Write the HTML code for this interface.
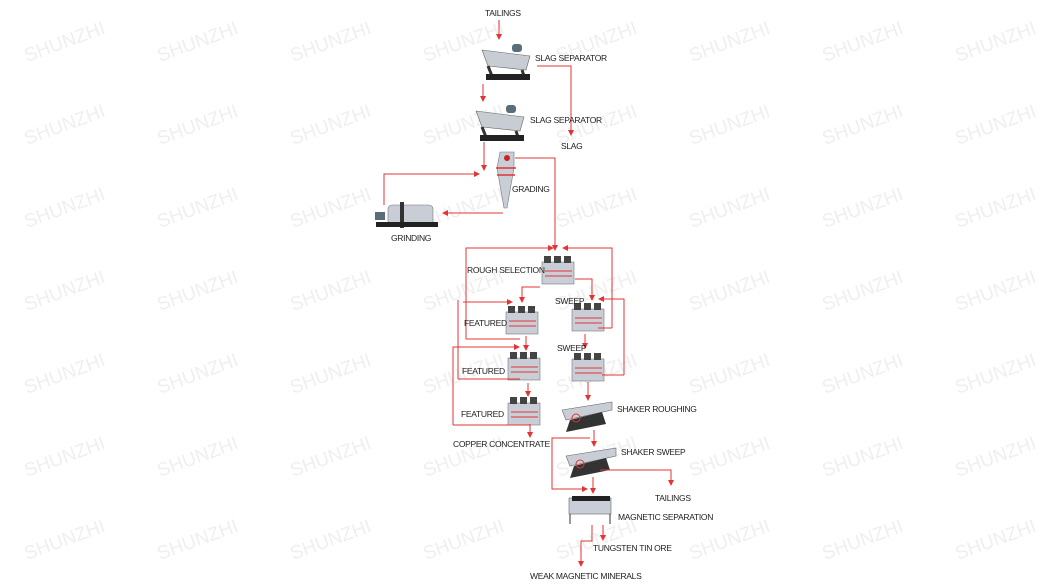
<!DOCTYPE html>
<html><head><meta charset="utf-8"><style>
html,body{margin:0;padding:0;background:#fff;}
svg{display:block}
.w{font-family:"Liberation Sans",sans-serif;font-size:19px;fill:#efefef;}
.t{font-family:"Liberation Sans",sans-serif;font-size:8.5px;fill:#222;letter-spacing:-0.3px}
.r{stroke:#e23434;stroke-width:1;fill:none}
</style></head><body>
<svg width="1040" height="585" viewBox="0 0 1040 585" xmlns="http://www.w3.org/2000/svg">
<defs>
<marker id="a" markerWidth="6" markerHeight="6" refX="5" refY="3" orient="auto" markerUnits="userSpaceOnUse"><path d="M0,0 L6,3 L0,6z" fill="#e23434"/></marker>
<g id="cell"><rect x="0" y="6" width="32" height="22" fill="#c9ced6" stroke="#777" stroke-width="0.6"/><rect x="2" y="0" width="7" height="7" fill="#444"/><rect x="12" y="0" width="7" height="7" fill="#444"/><rect x="22" y="0" width="7" height="7" fill="#444"/><line x1="3" y1="15" x2="30" y2="15" stroke="#e23434"/><line x1="3" y1="20" x2="30" y2="20" stroke="#e23434"/></g>
<g id="slag"><path d="M0,8 L48,14 L44,28 L6,24z" fill="#c8ccd3" stroke="#666" stroke-width="0.6"/><path d="M6,24 L10,34 M40,28 L42,34" stroke="#333" stroke-width="3"/><rect x="4" y="32" width="44" height="6" fill="#222"/><rect x="30" y="2" width="10" height="8" rx="3" fill="#5a6e7a"/></g>
<g id="shaker"><path d="M0,8 L50,0 L50,8 L4,18z" fill="#c9ced6" stroke="#666" stroke-width="0.6"/><path d="M8,18 L40,10 L44,22 L4,30z" fill="#333"/><circle cx="14" cy="16" r="4" fill="none" stroke="#e23434"/></g>
</defs>
<g class="w">
<text transform="translate(27,62) rotate(-20)">SHUNZHI</text><text transform="translate(160,62) rotate(-20)">SHUNZHI</text><text transform="translate(293,62) rotate(-20)">SHUNZHI</text><text transform="translate(426,62) rotate(-20)">SHUNZHI</text><text transform="translate(559,62) rotate(-20)">SHUNZHI</text><text transform="translate(692,62) rotate(-20)">SHUNZHI</text><text transform="translate(825,62) rotate(-20)">SHUNZHI</text><text transform="translate(958,62) rotate(-20)">SHUNZHI</text>
<text transform="translate(27,145) rotate(-20)">SHUNZHI</text><text transform="translate(160,145) rotate(-20)">SHUNZHI</text><text transform="translate(293,145) rotate(-20)">SHUNZHI</text><text transform="translate(426,145) rotate(-20)">SHUNZHI</text><text transform="translate(559,145) rotate(-20)">SHUNZHI</text><text transform="translate(692,145) rotate(-20)">SHUNZHI</text><text transform="translate(825,145) rotate(-20)">SHUNZHI</text><text transform="translate(958,145) rotate(-20)">SHUNZHI</text>
<text transform="translate(27,228) rotate(-20)">SHUNZHI</text><text transform="translate(160,228) rotate(-20)">SHUNZHI</text><text transform="translate(293,228) rotate(-20)">SHUNZHI</text><text transform="translate(426,228) rotate(-20)">SHUNZHI</text><text transform="translate(559,228) rotate(-20)">SHUNZHI</text><text transform="translate(692,228) rotate(-20)">SHUNZHI</text><text transform="translate(825,228) rotate(-20)">SHUNZHI</text><text transform="translate(958,228) rotate(-20)">SHUNZHI</text>
<text transform="translate(27,311) rotate(-20)">SHUNZHI</text><text transform="translate(160,311) rotate(-20)">SHUNZHI</text><text transform="translate(293,311) rotate(-20)">SHUNZHI</text><text transform="translate(426,311) rotate(-20)">SHUNZHI</text><text transform="translate(559,311) rotate(-20)">SHUNZHI</text><text transform="translate(692,311) rotate(-20)">SHUNZHI</text><text transform="translate(825,311) rotate(-20)">SHUNZHI</text><text transform="translate(958,311) rotate(-20)">SHUNZHI</text>
<text transform="translate(27,394) rotate(-20)">SHUNZHI</text><text transform="translate(160,394) rotate(-20)">SHUNZHI</text><text transform="translate(293,394) rotate(-20)">SHUNZHI</text><text transform="translate(426,394) rotate(-20)">SHUNZHI</text><text transform="translate(559,394) rotate(-20)">SHUNZHI</text><text transform="translate(692,394) rotate(-20)">SHUNZHI</text><text transform="translate(825,394) rotate(-20)">SHUNZHI</text><text transform="translate(958,394) rotate(-20)">SHUNZHI</text>
<text transform="translate(27,477) rotate(-20)">SHUNZHI</text><text transform="translate(160,477) rotate(-20)">SHUNZHI</text><text transform="translate(293,477) rotate(-20)">SHUNZHI</text><text transform="translate(426,477) rotate(-20)">SHUNZHI</text><text transform="translate(559,477) rotate(-20)">SHUNZHI</text><text transform="translate(692,477) rotate(-20)">SHUNZHI</text><text transform="translate(825,477) rotate(-20)">SHUNZHI</text><text transform="translate(958,477) rotate(-20)">SHUNZHI</text>
<text transform="translate(27,560) rotate(-20)">SHUNZHI</text><text transform="translate(160,560) rotate(-20)">SHUNZHI</text><text transform="translate(293,560) rotate(-20)">SHUNZHI</text><text transform="translate(426,560) rotate(-20)">SHUNZHI</text><text transform="translate(559,560) rotate(-20)">SHUNZHI</text><text transform="translate(692,560) rotate(-20)">SHUNZHI</text><text transform="translate(825,560) rotate(-20)">SHUNZHI</text><text transform="translate(958,560) rotate(-20)">SHUNZHI</text>
</g>

<use href="#slag" x="482" y="42"/>
<use href="#slag" x="476" y="103"/>
<path d="M500,152 L514,152 L514,168 L507,208 L504,208 L497,168z" fill="#c9ced6" stroke="#777" stroke-width="0.6"/>
<circle cx="507" cy="158" r="3" fill="#c22"/>
<line x1="496" y1="168" x2="516" y2="168" stroke="#e23434" stroke-width="1.5"/><line x1="497" y1="175" x2="515" y2="175" stroke="#e23434" stroke-width="1.5"/>
<rect x="388" y="205" width="45" height="20" rx="4" fill="#c9ced6" stroke="#777" stroke-width="0.6"/><rect x="400" y="202" width="4" height="26" fill="#333"/><rect x="376" y="222" width="62" height="5" fill="#222"/><rect x="375" y="212" width="10" height="8" fill="#5a6e7a"/>
<use href="#cell" x="542" y="256"/>
<use href="#cell" x="506" y="306"/>
<use href="#cell" x="572" y="303"/>
<use href="#cell" x="508" y="352"/>
<use href="#cell" x="572" y="353"/>
<use href="#cell" x="508" y="397"/>
<use href="#shaker" x="562" y="402"/>
<use href="#shaker" x="566" y="448"/>
<rect x="569" y="498" width="42" height="16" fill="#c9ced6" stroke="#666" stroke-width="0.6"/><rect x="572" y="496" width="38" height="5" fill="#222"/><line x1="570" y1="514" x2="570" y2="524" stroke="#333"/><line x1="610" y1="514" x2="610" y2="524" stroke="#333"/>

<g class="r">
<path d="M499,20 V39" marker-end="url(#a)"/>
<path d="M537,66 H571 V135" marker-end="url(#a)"/>
<path d="M483,84 V101" marker-end="url(#a)"/>
<path d="M484,142 V170" marker-end="url(#a)"/>
<path d="M515,158 H555 V250" marker-end="url(#a)"/>
<path d="M503,213 H443" marker-end="url(#a)"/>
<path d="M384,205 V174 H479" marker-end="url(#a)"/>
<path d="M466,339 V248 H553" marker-end="url(#a)"/>
<path d="M466,339 H520"/>
<path d="M612,328 V248 H563" marker-end="url(#a)"/>
<path d="M612,328 H598"/>
<path d="M540,287 H522 V302" marker-end="url(#a)"/>
<path d="M575,279 H592 V300" marker-end="url(#a)"/>
<path d="M624,375 V299 H599" marker-end="url(#a)"/>
<path d="M624,375 H602"/>
<path d="M463,302 H512" marker-end="url(#a)"/>
<path d="M458,379 V300"/>
<path d="M458,379 H520"/>
<path d="M453,425 V347 H519" marker-end="url(#a)"/>
<path d="M453,425 H530"/>
<path d="M526,336 V350" marker-end="url(#a)"/>
<path d="M528,383 V396" marker-end="url(#a)"/>
<path d="M530,424 V437" marker-end="url(#a)"/>
<path d="M585,334 V348" marker-end="url(#a)"/>
<path d="M588,382 V400" marker-end="url(#a)"/>
<path d="M594,430 V446" marker-end="url(#a)"/>
<path d="M590,438 H552 V489 H587" marker-end="url(#a)"/>
<path d="M600,470 H671 V485" marker-end="url(#a)"/>
<path d="M593,477 V493" marker-end="url(#a)"/>
<path d="M603,525 V540" marker-end="url(#a)"/>
<path d="M592,525 V541 H581 V566" marker-end="url(#a)"/>
</g>

<g class="t">
<text x="485" y="16">TAILINGS</text>
<text x="535" y="61">SLAG SEPARATOR</text>
<text x="530" y="123">SLAG SEPARATOR</text>
<text x="561" y="149">SLAG</text>
<text x="512" y="192">GRADING</text>
<text x="391" y="241">GRINDING</text>
<text x="467" y="273">ROUGH SELECTION</text>
<text x="555" y="304">SWEEP</text>
<text x="464" y="326">FEATURED</text>
<text x="557" y="351">SWEEP</text>
<text x="462" y="374">FEATURED</text>
<text x="461" y="417">FEATURED</text>
<text x="617" y="412">SHAKER ROUGHING</text>
<text x="453" y="447">COPPER CONCENTRATE</text>
<text x="621" y="455">SHAKER SWEEP</text>
<text x="655" y="501">TAILINGS</text>
<text x="618" y="520">MAGNETIC SEPARATION</text>
<text x="593" y="551">TUNGSTEN TIN ORE</text>
<text x="530" y="579">WEAK MAGNETIC MINERALS</text>
</g>
</svg>
</body></html>
